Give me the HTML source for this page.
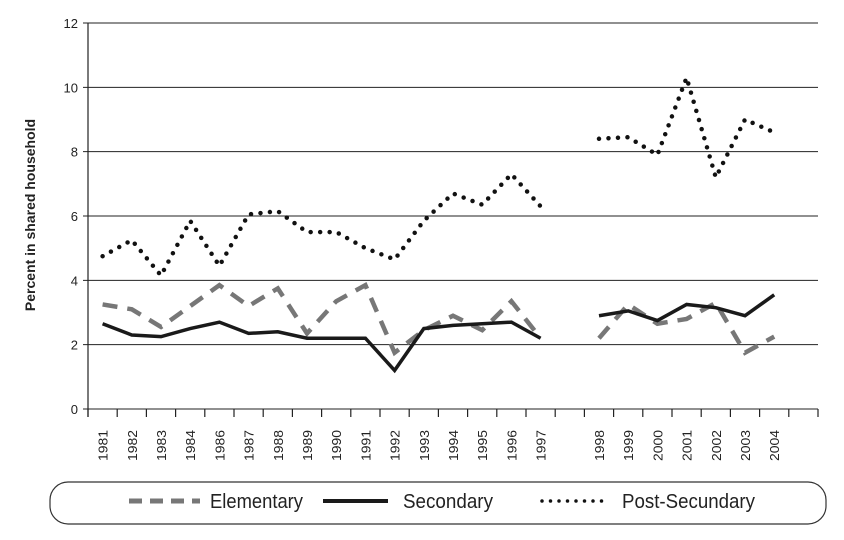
<!DOCTYPE html>
<html><head><meta charset="utf-8"><style>
body{margin:0;background:#fff;}
svg{display:block;font-family:"Liberation Sans",sans-serif;}
</style></head><body>
<svg id="chart" width="844" height="540" xmlns="http://www.w3.org/2000/svg"></svg>
<script>
const categories=["1981","1982","1983","1984","1986","1987","1988","1989","1990","1991","1992","1993","1994","1995","1996","1997","","1998","1999","2000","2001","2002","2003","2004"];
const elementary=[3.25,3.1,2.55,3.2,3.85,3.2,3.75,2.35,3.35,3.85,1.75,2.45,2.9,2.45,3.35,2.2,null,2.2,3.25,2.65,2.8,3.3,1.75,2.25];
const secondary=[2.65,2.3,2.25,2.5,2.7,2.35,2.4,2.2,2.2,2.2,1.2,2.5,2.6,2.65,2.7,2.2,null,2.9,3.05,2.75,3.25,3.15,2.9,3.55];
const postSecondary=[4.75,5.25,4.15,5.85,4.45,6.05,6.15,5.5,5.5,5.0,4.65,5.85,6.7,6.35,7.3,6.3,null,8.4,8.45,7.9,10.3,7.2,9.0,8.6];
const yTicks=[0,2,4,6,8,10,12];
const NS="http://www.w3.org/2000/svg";
const svg=document.getElementById('chart');
const X0=88,X1=818,Y0=409,Y1=23,N=25;
const step=(X1-X0)/N;
function xs(i){return X0+step*(i+0.5);}
function ys(v){return Y0-(v/12)*(Y0-Y1);}
function el(t,a,p){const e=document.createElementNS(NS,t);for(const k in a)e.setAttribute(k,a[k]);(p||svg).appendChild(e);return e;}
yTicks.forEach(v=>{
  const g=el('line',{x1:X0-5,x2:X1,y1:ys(v),y2:ys(v),stroke:'#222','stroke-width':1});
  
  
  const t=el('text',{x:X0-10,y:ys(v)+5,'text-anchor':'end','font-size':13,fill:'#222'});
  t.textContent=v;
  
  
});
const ya=el('line',{x1:X0,x2:X0,y1:Y1,y2:Y0+8,stroke:'#222','stroke-width':1.2});


for(let i=0;i<=N;i++){
  const tk=el('line',{x1:X0+step*i,x2:X0+step*i,y1:Y0,y2:Y0+8,stroke:'#222','stroke-width':1.2});
  
  
}
categories.forEach((c,i)=>{
  if(!c)return;
  const x=xs(i)+5,y=Y0+52;
  const t=el('text',{x:x,y:y,transform:`rotate(-90 ${x} ${y})`,'font-size':13,fill:'#222',textLength:31,lengthAdjust:'spacingAndGlyphs'});
  t.textContent=c;
  
  
});
const yt=el('text',{x:35,y:215,transform:'rotate(-90 35 215)','text-anchor':'middle','font-size':14,'font-weight':'bold',fill:'#222'});
yt.textContent='Percent  in shared household';


function series(data,style,name){
  let segs=[],cur=[];
  data.forEach((v,i)=>{if(v==null){if(cur.length)segs.push(cur);cur=[];}else cur.push(xs(i)+','+ys(v));});
  if(cur.length)segs.push(cur);
  segs.forEach(s=>{
    const p=el('polyline',Object.assign({points:s.join(' '),fill:'none','stroke-linejoin':'miter'},style));
    
    
  });
}
series(elementary,{stroke:'#777','stroke-width':4.5,'stroke-dasharray':'15,10'},'elementary-line');
series(secondary,{stroke:'#1a1a1a','stroke-width':3.5},'secondary-line');
series(postSecondary,{stroke:'#111','stroke-width':4.5,'stroke-dasharray':'0,9.5','stroke-linecap':'round'},'post-secondary-line');
const lg=el('g',{});


el('rect',{x:50,y:482,width:776,height:42,rx:18,ry:18,fill:'#fff',stroke:'#333','stroke-width':1.2},lg);
function entry(x1,x2,tx,tl,label,style,name){
  const g=el('g',{},lg);
  
  
  el('line',Object.assign({x1:x1,x2:x2,y1:501,y2:501},style),g);
  const t=el('text',{x:tx,y:508,'font-size':20,fill:'#222',textLength:tl,lengthAdjust:'spacingAndGlyphs'},g);
  t.textContent=label;
}
entry(129,200,210,93,'Elementary',{stroke:'#777','stroke-width':5,'stroke-dasharray':'13,8','stroke-linecap':'butt'},'legend-entry-elementary');
entry(323,388,403,90,'Secondary',{stroke:'#1a1a1a','stroke-width':4},'legend-entry-secondary');
entry(542,610,622,133,'Post-Secundary',{stroke:'#111','stroke-width':3.5,'stroke-dasharray':'0,8.5','stroke-linecap':'round'},'legend-entry-post-secondary');
</script>
</body></html>
